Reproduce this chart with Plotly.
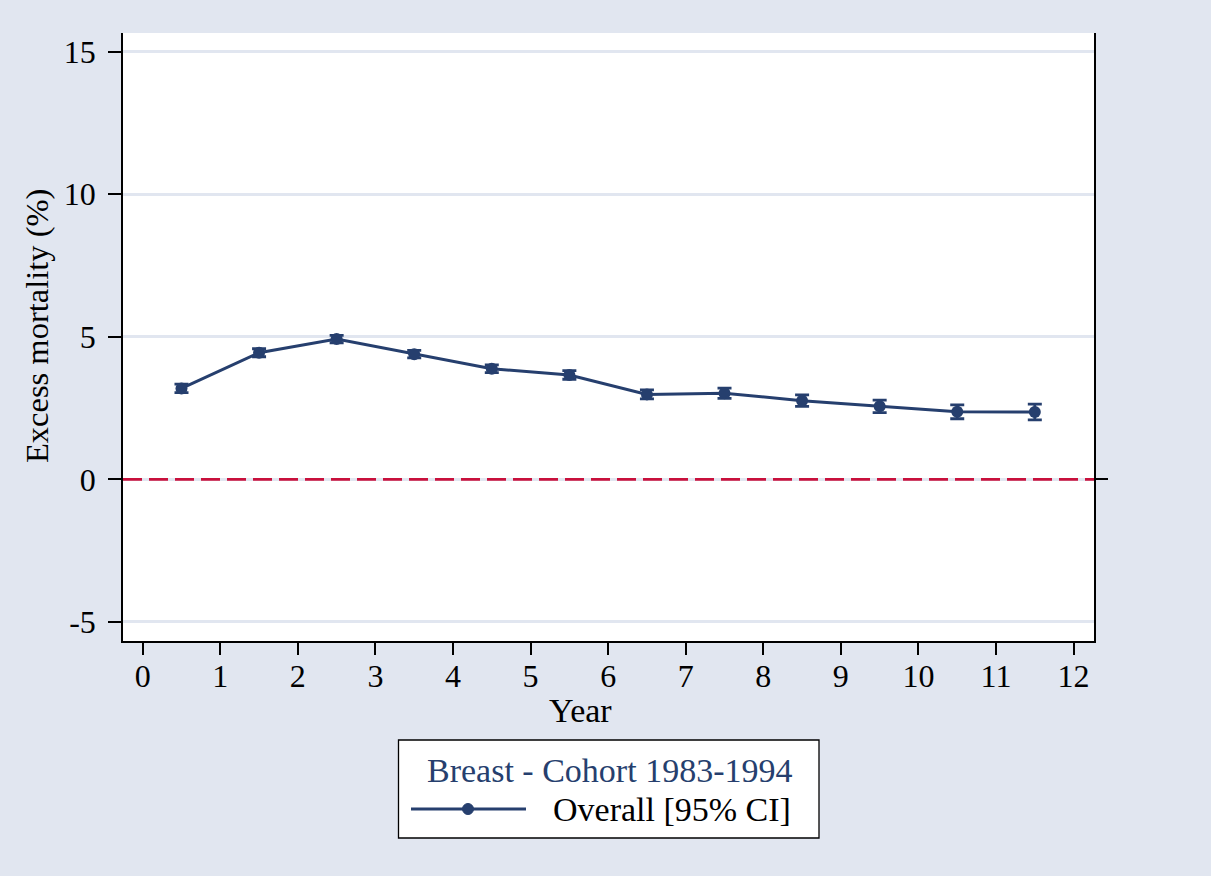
import plotly.graph_objects as go

# Excess mortality by year since diagnosis, breast cancer cohort 1983-1994
years = [0.5, 1.5, 2.5, 3.5, 4.5, 5.5, 6.5, 7.5, 8.5, 9.5, 10.5, 11.5]
excess = [3.19, 4.44, 4.92, 4.39, 3.88, 3.66, 2.98, 3.02, 2.76, 2.56, 2.37, 2.36]
ci_low = [3.04, 4.30, 4.79, 4.26, 3.745, 3.51, 2.82, 2.84, 2.56, 2.34, 2.125, 2.085]
ci_high = [3.34, 4.58, 5.05, 4.52, 4.015, 3.81, 3.14, 3.20, 2.96, 2.78, 2.615, 2.635]

x_ticks = list(range(0, 13))
y_ticks = [-5, 0, 5, 10, 15]
y_ticktext = ["-5", "0", "5", "10", "15"]

x_title = "Year"
y_title = "Excess mortality (%)"
legend_title = "Breast - Cohort 1983-1994"
legend_label = "Overall [95% CI]"

NAVY = "#263f6e"
RED = "#c8103c"
BG = "#e1e6f0"
GRID = "#e1e6f0"
FONT = "Liberation Serif"

W, H = 1211, 876
L, R, T, B = 123, 117, 33, 235
PW, PH = W - L - R, H - T - B


def px(x):
    return (x - L) / PW


def py(y):
    return (H - B - y) / PH


err_plus = [h - m for h, m in zip(ci_high, excess)]
err_minus = [m - lo for m, lo in zip(excess, ci_low)]

fig = go.Figure()

fig.add_trace(go.Scatter(
    x=years, y=excess, mode="lines+markers",
    line=dict(color=NAVY, width=3),
    marker=dict(color=NAVY, size=12, symbol="circle"),
    error_y=dict(type="data", symmetric=False, array=err_plus, arrayminus=err_minus,
                 color=NAVY, thickness=2.8, width=7),
    showlegend=False,
))

# invisible trace carrying the right-hand axis
fig.add_trace(go.Scatter(x=[None], y=[None], yaxis="y2", showlegend=False, hoverinfo="skip"))

# reference line at zero
fig.add_shape(type="line", xref="paper", yref="y", x0=0, x1=1, y0=0, y1=0,
              line=dict(color=RED, width=2.8, dash="19px,7px"))

# legend box drawn beneath the plot
fig.add_shape(type="rect", xref="paper", yref="paper",
              x0=px(398.5), x1=px(819), y0=py(740), y1=py(838),
              line=dict(color="black", width=1.3), fillcolor="white")
fig.add_shape(type="line", xref="paper", yref="paper",
              x0=px(411), x1=px(526), y0=py(809), y1=py(809),
              line=dict(color=NAVY, width=2.8))
fig.add_shape(type="circle", xref="paper", yref="paper",
              x0=px(462.5), x1=px(473.5), y0=py(803.5), y1=py(814.5),
              line=dict(color=NAVY, width=1), fillcolor=NAVY)
fig.add_annotation(xref="paper", yref="paper", x=px(609), y=py(770),
                   text=legend_title, showarrow=False, xanchor="center", yanchor="middle",
                   font=dict(family=FONT, size=34, color=NAVY))
fig.add_annotation(xref="paper", yref="paper", x=px(551), y=py(809),
                   text=legend_label, showarrow=False, xanchor="left", yanchor="middle",
                   font=dict(family=FONT, size=34, color="black"))

tick_font = dict(family=FONT, size=32, color="black")

# axis titles
fig.add_annotation(xref="paper", yref="paper", x=px(580), y=py(710),
                   text=x_title, showarrow=False, xanchor="center", yanchor="middle",
                   font=dict(family=FONT, size=34, color="black"))
fig.add_annotation(xref="paper", yref="paper", x=px(37), y=py(326),
                   text=y_title, showarrow=False, xanchor="center", yanchor="middle",
                   textangle=-90, font=dict(family=FONT, size=32.5, color="black"))

fig.update_layout(
    width=W, height=H,
    margin=dict(l=L, r=R, t=T, b=B, pad=0),
    paper_bgcolor=BG, plot_bgcolor="white",
    font=tick_font,
    showlegend=False,
    xaxis=dict(
        range=[-0.254, 12.263], tickmode="array", tickvals=x_ticks,
        ticks="outside", ticklen=12, tickwidth=1.5, tickcolor="black",
        showline=True, linecolor="black", linewidth=1.6, mirror=False,
        showgrid=False, zeroline=False, tickfont=tick_font,
        ticklabelstandoff=-6,
    ),
    yaxis=dict(
        range=[-5.67, 15.655], tickmode="array", tickvals=y_ticks, ticktext=y_ticktext,
        ticks="outside", ticklen=13, tickwidth=1.5, tickcolor="black",
        showline=True, linecolor="black", linewidth=1.6,
        showgrid=True, gridcolor=GRID, gridwidth=2.5, zeroline=False,
        tickfont=tick_font, ticklabelstandoff=6,
    ),
    yaxis2=dict(
        range=[-5.67, 15.655], overlaying="y", side="right", anchor="x",
        tickmode="array", tickvals=[0], showticklabels=False,
        ticks="outside", ticklen=12, tickwidth=1.5, tickcolor="black",
        showline=True, linecolor="black", linewidth=1.6,
        showgrid=False, zeroline=False,
    ),
)

fig.write_html("out.html")
